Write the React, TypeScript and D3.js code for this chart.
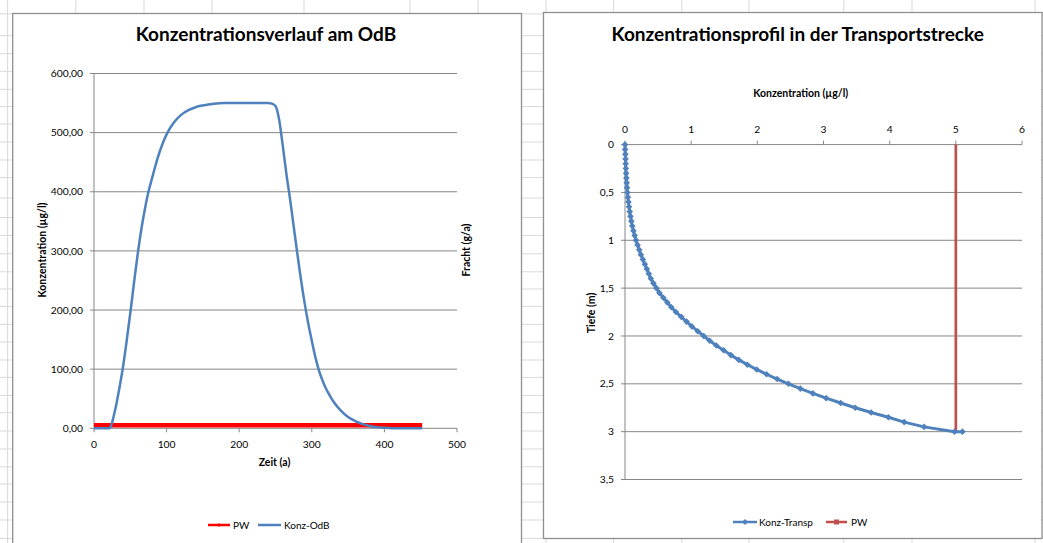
import React from "react";
import * as d3 from "d3";

// ---------- Left chart data: Konzentrationsverlauf am OdB ----------
const odbTime = [0, 10, 20, 22, 25, 27, 30, 33, 35, 40, 45, 50, 55, 60, 65, 70, 75, 80, 85, 90, 95, 100, 110, 120, 130, 140, 150, 165, 180, 200, 220, 240, 245, 250, 255, 260, 265, 270, 275, 280, 285, 290, 295, 300, 305, 310, 315, 320, 325, 330, 340, 350, 360, 370, 380, 390, 400, 420, 452];
const odbConc = [0, 0, 0, 1, 10, 20, 36, 55, 68, 104, 148, 195, 245, 293, 335, 370, 400, 423, 446, 466, 483, 497, 517, 530, 538, 543, 546, 549, 550, 550, 550, 550, 549, 545, 522, 478, 430, 388, 342, 296, 252, 213, 178, 148, 120, 97, 80, 66, 55, 45, 30, 19, 12, 7, 4, 2, 1, 0, 0];
const pwTime = [0, 452];
const pwConc = [5, 5];
const leftYTicks = [0, 100, 200, 300, 400, 500, 600];
const leftXTicks = [0, 100, 200, 300, 400, 500];

// ---------- Right chart data: Konzentrationsprofil in der Transportstrecke ----------
const transpDepth = [0, 0.05, 0.1, 0.15, 0.2, 0.25, 0.3, 0.35, 0.4, 0.45, 0.5, 0.55, 0.6, 0.65, 0.7, 0.75, 0.8, 0.85, 0.9, 0.95, 1.0, 1.05, 1.1, 1.15, 1.2, 1.25, 1.3, 1.35, 1.4, 1.45, 1.5, 1.55, 1.6, 1.65, 1.7, 1.75, 1.8, 1.85, 1.9, 1.95, 2.0, 2.05, 2.1, 2.15, 2.2, 2.25, 2.3, 2.35, 2.4, 2.45, 2.5, 2.55, 2.6, 2.65, 2.7, 2.75, 2.8, 2.85, 2.9, 2.95, 3.0, 3.0];
const transpConc = [0, 0.002, 0.005, 0.008, 0.01, 0.013, 0.017, 0.021, 0.026, 0.031, 0.037, 0.044, 0.052, 0.061, 0.071, 0.083, 0.096, 0.11, 0.127, 0.146, 0.166, 0.19, 0.215, 0.24, 0.27, 0.3, 0.33, 0.36, 0.39, 0.43, 0.475, 0.52, 0.58, 0.64, 0.7, 0.77, 0.85, 0.93, 1.01, 1.1, 1.19, 1.28, 1.38, 1.49, 1.6, 1.72, 1.85, 1.99, 2.14, 2.3, 2.47, 2.65, 2.84, 3.04, 3.26, 3.48, 3.72, 3.98, 4.22, 4.52, 4.98, 5.1];
const pwDepth = [0, 3];
const pwProfileConc = [5, 5];
const rightXTicks = [0, 1, 2, 3, 4, 5, 6];
const rightYTicks = [0, 0.5, 1, 1.5, 2, 2.5, 3, 3.5];

// ---------- Spreadsheet background ----------
const sheetCols = [7.6, 75.8, 144, 212, 304, 410, 478, 546, 613.6, 681.8, 749, 843.8, 912, 1035];
const sheetRows = [13.9, 35.7, 53.7, 71.3, 89.3, 106.6, 124, 142, 160, 177.6, 198, 217.5, 235.4, 253.8, 271.8, 289, 306.4, 324.4, 342, 360, 377.4, 395.4, 412.7, 431, 449, 466.8, 484, 502, 520, 538.4];

const FONT = "Lato, 'Open Sans', 'DejaVu Sans', sans-serif";
const BLUE = "#4F81BD";
const AXIS = "#868686";
const TITLE_SIZE = 19;
const AXIS_TITLE_SIZE = 10.5;
const TICK_SIZE = 10.3;

const comma = (v: number, digits?: number) =>
  (digits !== undefined ? v.toFixed(digits) : String(v)).replace(".", ",");

export default function App() {
  const lx = d3.scaleLinear().domain([0, 500]).range([94, 457]);
  const ly = d3.scaleLinear().domain([0, 600]).range([428.3, 73.5]);
  const rx = d3.scaleLinear().domain([0, 6]).range([625, 1022]);
  const ry = d3.scaleLinear().domain([0, 3.5]).range([144.6, 479.5]);

  const odbLine = d3
    .line<number>()
    .x((_, i) => lx(odbTime[i]))
    .y((d) => ly(d))
    .curve(d3.curveMonotoneX)(odbConc) as string;
  const pwLine = d3
    .line<number>()
    .x((_, i) => lx(pwTime[i]))
    .y((d) => ly(d))(pwConc) as string;

  const transpLine = d3
    .line<number>()
    .x((d) => rx(d))
    .y((_, i) => ry(transpDepth[i]))(transpConc) as string;
  const pwProfileLine = d3
    .line<number>()
    .x((d) => rx(d))
    .y((_, i) => ry(pwDepth[i]))(pwProfileConc) as string;

  const diamond = (x: number, y: number, r: number) =>
    `M${x},${y - r}L${x + r},${y}L${x},${y + r}L${x - r},${y}Z`;

  return (
    <svg
      width={1043}
      height={543}
      viewBox="0 0 1043 543"
      style={{ position: "absolute", left: 0, top: 0, background: "#fff" }}
      fontFamily={FONT}
    >
      {/* spreadsheet grid */}
      <g stroke="#d9d9d9" strokeWidth={1}>
        {sheetCols.map((c, i) => (
          <line key={"c" + i} x1={c} x2={c} y1={0} y2={543} />
        ))}
        {sheetRows.map((r, i) => (
          <line key={"r" + i} x1={0} x2={1043} y1={r} y2={r} />
        ))}
      </g>

      {/* chart frames */}
      <rect x={12.7} y={13.5} width={508.8} height={540} fill="#fff" stroke="#8f8f8f" strokeWidth={1.3} />
      <rect x={543.5} y={12.5} width={498.5} height={526} fill="#fff" stroke="#8f8f8f" strokeWidth={1.3} />

      {/* ================= LEFT CHART ================= */}
      <text x={266} y={41} textAnchor="middle" fontSize={TITLE_SIZE} fontWeight="bold" fill="#000">
        Konzentrationsverlauf am OdB
      </text>
      <g stroke={AXIS} strokeWidth={1}>
        {leftYTicks.slice(1).map((t) => (
          <line key={t} x1={lx(0)} x2={lx(500)} y1={ly(t)} y2={ly(t)} />
        ))}
        <line x1={lx(0)} x2={lx(0)} y1={ly(600)} y2={ly(0)} />
        <line x1={lx(0)} x2={lx(500)} y1={ly(0)} y2={ly(0)} />
        {leftYTicks.map((t) => (
          <line key={"yt" + t} x1={lx(0) - 4} x2={lx(0)} y1={ly(t)} y2={ly(t)} />
        ))}
        {leftXTicks.map((t) => (
          <line key={"xt" + t} x1={lx(t)} x2={lx(t)} y1={ly(0)} y2={ly(0) + 4} />
        ))}
      </g>
      <g fontSize={TICK_SIZE} fill="#000">
        {leftYTicks.map((t) => (
          <text key={t} x={83} y={ly(t)} dy="0.35em" textAnchor="end">
            {comma(t, 2)}
          </text>
        ))}
        {leftXTicks.map((t) => (
          <text key={t} x={lx(t)} y={444} dy="0.35em" textAnchor="middle">
            {t}
          </text>
        ))}
      </g>
      <text x={274.5} y={462} dy="0.35em" textAnchor="middle" fontSize={AXIS_TITLE_SIZE} fontWeight="bold">
        Zeit (a)
      </text>
      <text
        transform="translate(42,250) rotate(-90)"
        textAnchor="middle"
        dy="0.35em"
        fontSize={AXIS_TITLE_SIZE}
        fontWeight="bold"
      >
        Konzentration (µg/l)
      </text>
      <text
        transform="translate(466.5,250) rotate(-90)"
        textAnchor="middle"
        dy="0.35em"
        fontSize={AXIS_TITLE_SIZE}
        fontWeight="bold"
      >
        Fracht (g/a)
      </text>
      <path d={pwLine} fill="none" stroke="#FF0000" strokeWidth={4.5} />
      <path d={odbLine} fill="none" stroke={BLUE} strokeWidth={2.5} strokeLinejoin="round" />
      {/* legend */}
      <line x1={208} x2={230} y1={525} y2={525} stroke="#FF0000" strokeWidth={2.5} />
      <line x1={219} x2={219} y1={523} y2={527} stroke="#FF0000" strokeWidth={1} />
      <text x={233} y={525} dy="0.35em" fontSize={10} fill="#000">PW</text>
      <line x1={258} x2={281} y1={525} y2={525} stroke={BLUE} strokeWidth={2.5} />
      <text x={284} y={525} dy="0.35em" fontSize={10} fill="#000">Konz-OdB</text>

      {/* ================= RIGHT CHART ================= */}
      <text x={797.7} y={41} textAnchor="middle" fontSize={TITLE_SIZE} fontWeight="bold" fill="#000">
        Konzentrationsprofil in der Transportstrecke
      </text>
      <text x={800.7} y={93} dy="0.35em" textAnchor="middle" fontSize={AXIS_TITLE_SIZE} fontWeight="bold">
        Konzentration (µg/l)
      </text>
      <g stroke={AXIS} strokeWidth={1}>
        {rightYTicks.slice(1).map((t) => (
          <line key={t} x1={rx(0)} x2={rx(6)} y1={ry(t)} y2={ry(t)} />
        ))}
        <line x1={rx(0)} x2={rx(6)} y1={ry(0)} y2={ry(0)} />
        <line x1={rx(0)} x2={rx(0)} y1={ry(0)} y2={ry(3.5)} />
        {rightXTicks.map((t) => (
          <line key={"xt" + t} x1={rx(t)} x2={rx(t)} y1={ry(0) - 4} y2={ry(0)} />
        ))}
        {rightYTicks.map((t) => (
          <line key={"yt" + t} x1={rx(0) - 4} x2={rx(0)} y1={ry(t)} y2={ry(t)} />
        ))}
      </g>
      <g fontSize={TICK_SIZE} fill="#000">
        {rightXTicks.map((t) => (
          <text key={t} x={rx(t)} y={129} dy="0.35em" textAnchor="middle">
            {t}
          </text>
        ))}
        {rightYTicks.map((t) => (
          <text key={t} x={614} y={ry(t)} dy="0.35em" textAnchor="end">
            {comma(t)}
          </text>
        ))}
      </g>
      <text
        transform="translate(591,313) rotate(-90)"
        textAnchor="middle"
        dy="0.35em"
        fontSize={AXIS_TITLE_SIZE}
        fontWeight="bold"
      >
        Tiefe (m)
      </text>
      <path d={pwProfileLine} fill="none" stroke="#C0504D" strokeWidth={2.7} />
      <path d={transpLine} fill="none" stroke={BLUE} strokeWidth={3} strokeLinejoin="round" />
      <g fill={BLUE}>
        {transpConc.map((c, i) => (
          <path key={i} d={diamond(rx(c), ry(transpDepth[i]), 3.3)} />
        ))}
      </g>
      {/* legend */}
      <line x1={733} x2={757} y1={522} y2={522} stroke={BLUE} strokeWidth={2.5} />
      <path d={diamond(745, 522, 3)} fill={BLUE} />
      <text x={759} y={522} dy="0.35em" fontSize={10} fill="#000">Konz-Transp</text>
      <line x1={826} x2={847} y1={522} y2={522} stroke="#C0504D" strokeWidth={2.5} />
      <rect x={834} y={519.5} width={5} height={5} fill="#C0504D" />
      <text x={851} y={522} dy="0.35em" fontSize={10} fill="#000">PW</text>
    </svg>
  );
}
